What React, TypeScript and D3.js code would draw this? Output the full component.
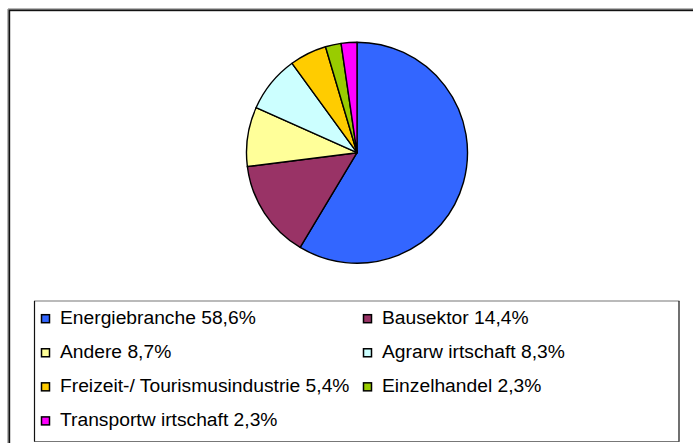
import React from "react";
import * as d3 from "d3";

const categories = [
  "Energiebranche",
  "Bausektor",
  "Andere",
  "Agrarw irtschaft",
  "Freizeit-/ Tourismusindustrie",
  "Einzelhandel",
  "Transportw irtschaft",
];
const values = [58.6, 14.4, 8.7, 8.3, 5.4, 2.3, 2.3];
const labels = ["58,6%", "14,4%", "8,7%", "8,3%", "5,4%", "2,3%", "2,3%"];
const colors = ["#3366FF", "#993366", "#FFFF99", "#CCFFFF", "#FFCC00", "#99CC00", "#FF00FF"];

const W = 693;
const H = 443;

export default function App() {
  const cx = 357;
  const cy = 152.7;
  const r = 110.5;
  const pie = d3.pie<number>().sort(null).value((d) => d).startAngle(0).endAngle(2 * Math.PI);
  const arcs = pie(values);
  const arcGen = d3.arc<d3.PieArcDatum<number>>().innerRadius(0).outerRadius(r);

  const colX = d3.scaleOrdinal<number, number>().domain([0, 1]).range([41, 363]);
  const rowY = d3.scaleLinear().domain([0, 3]).range([323.5, 425.7]);

  return (
    <svg
      width={W}
      height={H}
      style={{ position: "absolute", left: 0, top: 0, background: "#fff" }}
      xmlns="http://www.w3.org/2000/svg"
    >
      <rect x={0} y={0} width={W} height={H} fill="#fff" />
      {/* outer chart border (right/bottom beyond view) */}
      <line x1={8} y1={8.8} x2={W + 5} y2={8.8} stroke="#999" strokeWidth={1} />
      <line x1={7.8} y1={9} x2={7.8} y2={H + 5} stroke="#999" strokeWidth={1} />
      <rect x={9.3} y={10.3} width={W + 10} height={H + 10} fill="none" stroke="#111" strokeWidth={1.8} />

      <g transform={`translate(${cx},${cy})`}>
        {arcs.map((a, i) => (
          <path key={i} d={arcGen(a) || ""} fill={colors[i]} stroke="#000" strokeWidth={1.4} strokeLinejoin="round" />
        ))}
      </g>

      {/* legend box */}
      <line x1={34} y1={301} x2={679.5} y2={301} stroke="#777" strokeWidth={1.2} />
      <line x1={34} y1={441.5} x2={679.5} y2={441.5} stroke="#777" strokeWidth={1.2} />
      <line x1={34.5} y1={301} x2={34.5} y2={441.5} stroke="#111" strokeWidth={1.2} />
      <line x1={679} y1={301} x2={679} y2={441.5} stroke="#111" strokeWidth={1.2} />

      {categories.map((c, i) => {
        const col = i % 2;
        const row = Math.floor(i / 2);
        const x = colX(col);
        const y = rowY(row);
        return (
          <g key={c}>
            <rect x={x + 0.5} y={y - 8.8} width={8} height={8} fill={colors[i]} stroke="#000" strokeWidth={1.5} />
            <text
              transform={`translate(${x + 19},${y}) scale(1.07,1)`}
              fontFamily="'Liberation Sans', Arial, sans-serif"
              fontSize={18}
              fill="#000"
            >
              {`${c} ${labels[i]}`}
            </text>
          </g>
        );
      })}
    </svg>
  );
}
